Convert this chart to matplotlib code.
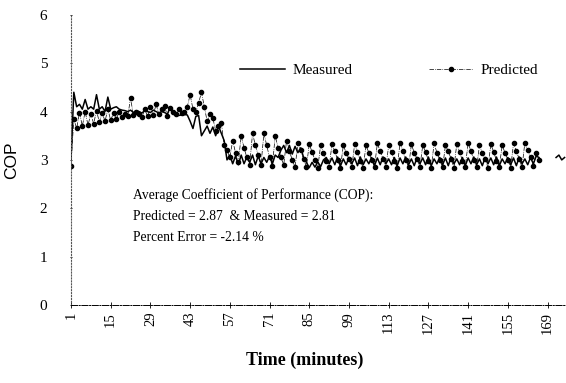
import numpy as np
import matplotlib
matplotlib.use("Agg")
import matplotlib.pyplot as plt

plt.rcParams["font.family"] = ["Liberation Serif", "DejaVu Serif"]

# minutes 1..175
minutes = np.arange(1, 176)

measured = [
    3.00, 4.40, 4.10, 4.15, 4.05, 4.25, 4.05, 4.10, 4.05, 4.35,
    4.05, 4.10, 4.00, 4.30, 4.05, 4.08, 4.10, 4.05, 4.03, 4.02,
    4.00, 4.03, 3.98, 4.02, 4.00, 3.97, 4.02, 4.00, 3.98, 4.03,
    4.00, 3.97, 4.00, 3.98, 3.95, 4.10, 3.95, 3.93, 3.92, 3.93,
    3.94, 3.93, 3.80, 3.65, 3.90, 3.92, 3.50, 3.60, 3.70, 3.55,
    3.68, 3.50, 3.70, 3.55, 3.40, 3.00, 3.10, 2.92, 3.08, 2.90,
    3.10, 2.92, 3.06, 2.95, 3.10, 2.90, 3.08, 2.92, 3.05, 2.95,
    3.08, 2.92, 3.10, 3.05, 3.20, 3.30, 3.15, 3.30, 3.12, 3.28,
    3.15, 3.25, 3.05, 2.95, 2.84, 2.95, 2.85, 2.96, 2.86, 3.00,
    3.05, 2.92, 3.04, 2.90, 3.06, 2.88, 3.02, 2.90, 3.05, 2.92,
    3.04, 2.88, 3.06, 2.90, 3.02, 2.92, 3.05, 2.88, 3.04, 2.90,
    3.06, 2.92, 3.02, 2.90, 3.05, 2.88, 3.04, 2.92, 3.06, 2.90,
    3.02, 2.88, 3.05, 2.92, 3.04, 2.90, 3.06, 2.88, 3.02, 2.92,
    3.05, 2.90, 3.04, 2.88, 3.06, 2.92, 3.02, 2.90, 3.05, 2.88,
    3.04, 2.92, 3.06, 2.90, 3.02, 2.88, 3.05, 2.92, 3.04, 2.90,
    3.06, 2.88, 3.02, 2.92, 3.05, 2.90, 3.04, 2.88, 3.06, 2.92,
    3.02, 2.90, 3.05, 2.92, 3.08, 3.05, np.nan, np.nan, np.nan, np.nan,
    np.nan, 3.05, 3.10, 3.00, 3.05,
]

predicted = [
    2.88, 3.85, 3.65, 3.98, 3.70, 4.00, 3.72, 3.95, 3.75, 4.02,
    3.78, 3.98, 3.80, 4.05, 3.82, 3.97, 3.85, 4.00, 3.88, 3.95,
    3.90, 4.28, 3.92, 4.00, 3.95, 3.88, 4.05, 3.90, 4.10, 3.92,
    4.15, 3.95, 4.05, 4.12, 3.90, 4.08, 4.00, 3.95, 4.05, 3.98,
    4.00, 4.10, 4.35, 4.05, 4.00, 4.18, 4.40, 4.10, 3.80, 3.95,
    3.87, 3.60, 3.70, 3.77, 3.30, 3.20, 3.05, 3.40, 3.15, 2.95,
    3.50, 3.25, 3.05, 2.90, 3.55, 3.30, 3.10, 2.90, 3.55, 3.30,
    3.05, 2.88, 3.50, 3.25, 3.05, 2.90, 3.40, 3.18, 3.00, 2.85,
    3.35, 3.20, 3.02, 2.86, 3.33, 3.16, 3.00, 2.84, 3.30, 3.15,
    2.98, 2.85, 3.32, 3.18, 3.00, 2.84, 3.30, 3.15, 3.02, 2.85,
    3.33, 3.17, 2.98, 2.84, 3.30, 3.15, 3.00, 2.86, 3.34, 3.18,
    3.02, 2.85, 3.30, 3.16, 2.98, 2.84, 3.36, 3.18, 3.00, 2.85,
    3.32, 3.15, 3.02, 2.86, 3.30, 3.17, 2.98, 2.84, 3.34, 3.15,
    3.00, 2.85, 3.30, 3.18, 3.02, 2.84, 3.33, 3.16, 2.98, 2.86,
    3.35, 3.18, 3.00, 2.85, 3.30, 3.15, 3.02, 2.84, 3.32, 3.17,
    2.98, 2.86, 3.30, 3.15, 3.00, 2.84, 3.34, 3.18, 3.02, 2.85,
    3.36, 3.20, 3.05, 2.88, 3.15, 3.00, np.nan, np.nan, np.nan, np.nan,
    np.nan, np.nan, np.nan, np.nan, np.nan,
]

xticks = [1, 15, 29, 43, 57, 71, 85, 99, 113, 127, 141, 155, 169]
yticks = [0, 1, 2, 3, 4, 5, 6]

fig = plt.figure(figsize=(5.66, 3.83), dpi=100)
ax = fig.add_axes([0.1254, 0.204, 0.8746, 0.757])

ax.plot(minutes, measured, color="black", lw=1.1, label="Measured")
ax.plot(minutes, predicted, color="black", lw=0.5, ls="-.",
        marker="o", markersize=3.0, label="Predicted")

ax.set_xlim(1, 175.5)
ax.set_ylim(0, 6)
ax.set_xticks(xticks)
ax.set_xticklabels([str(t) for t in xticks], rotation=90, fontsize=10.5)
ax.set_yticks(yticks)
ax.set_yticklabels([str(t) for t in yticks], fontsize=11)
ax.tick_params(axis="x", direction="inout", length=4, width=0.6, pad=3)
ax.tick_params(axis="y", direction="inout", length=2, width=0.6, pad=16)

for s in ["top", "right"]:
    ax.spines[s].set_visible(False)
ax.spines["left"].set_linestyle(":")
ax.spines["left"].set_color("#555555")
ax.spines["left"].set_linewidth(0.8)
ax.spines["bottom"].set_linestyle("-.")
ax.spines["bottom"].set_linewidth(0.7)

ax.set_ylabel("COP", family=["Liberation Sans", "DejaVu Sans"], fontsize=12.5)
ax.yaxis.set_label_coords(-0.105, 0.5)
ax.set_xlabel("Time (minutes)", fontsize=13, fontweight="bold")
ax.xaxis.set_label_coords(0.473, -0.16)

ax.text(22.8, 2.28, "Average Coefficient of Performance (COP):", fontsize=9.8, va="center")
ax.text(22.8, 1.82, "Predicted = 2.87  & Measured = 2.81", fontsize=9.8, va="center")
ax.text(22.8, 1.39, "Percent Error = -2.14 %", fontsize=9.8, va="center")

ax.legend(loc="center left", bbox_to_anchor=(0.33, 0.81), ncol=2, frameon=False,
          handlelength=2.9, columnspacing=5.0, fontsize=11, borderaxespad=0,
          handletextpad=0.5)

fig.savefig("out.png", dpi=100)
